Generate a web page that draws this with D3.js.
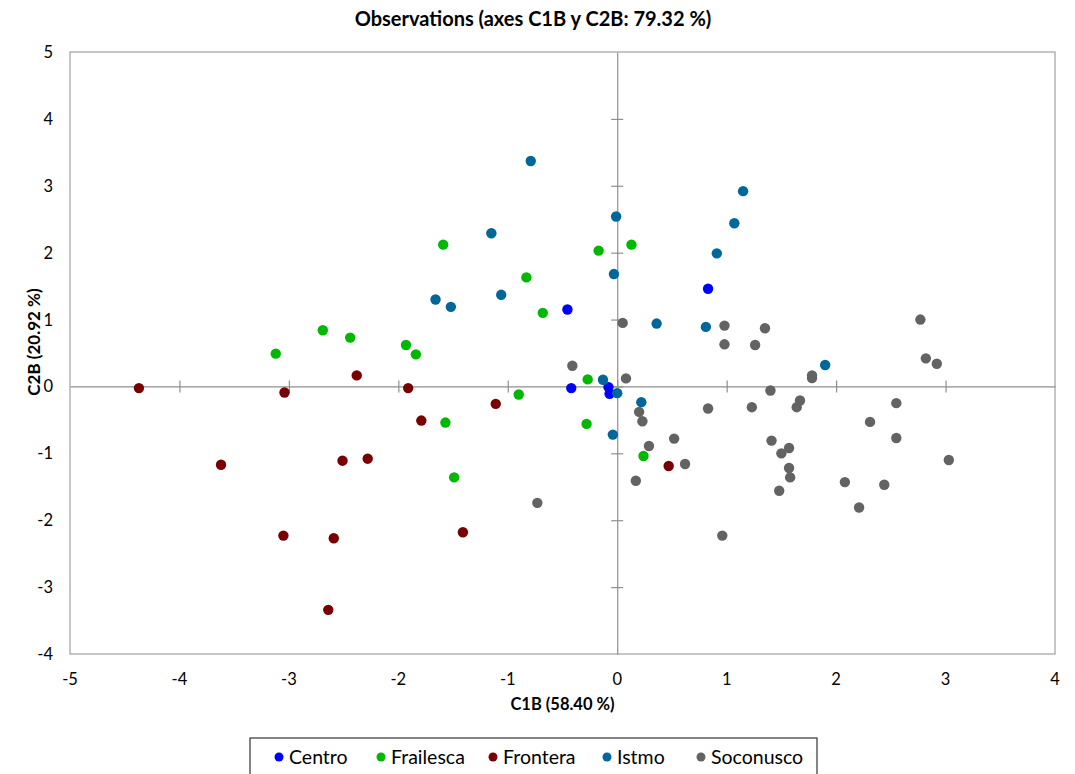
<!DOCTYPE html>
<html>
<head>
<meta charset="utf-8">
<script src="https://cdn.jsdelivr.net/npm/d3@7"></script>
<style>
  body { margin: 0; background: #fff; }
  text { font-family: Lato, "Open Sans", sans-serif; fill: #000; }
</style>
</head>
<body>
<svg id="chart" width="1075" height="774"></svg>
<script>
// series (C1B, C2B)
const groups = ['Centro', 'Frailesca', 'Frontera', 'Istmo', 'Soconusco'];
const colors = ['#0000ff', '#00b800', '#780000', '#00679b', '#636363'];

const centroX = [-0.455, 0.83, -0.42, -0.08, -0.07];
const centroY = [1.15, 1.46, -0.025, -0.01, -0.11];

const frailescaX = [-1.59, -0.83, -0.68, -2.69, -2.44, -3.12, -1.93, -1.84, -0.90, -1.57, -1.49, -0.17, 0.13, -0.27, -0.28, 0.24];
const frailescaY = [2.12, 1.63, 1.10, 0.84, 0.73, 0.49, 0.62, 0.48, -0.12, -0.54, -1.36, 2.03, 2.12, 0.105, -0.56, -1.04];

const fronteraX = [-2.38, -4.37, -3.04, -1.91, -1.11, -1.79, -3.62, -2.51, -2.28, -3.05, -2.59, -1.41, -2.64, 0.47];
const fronteraY = [0.165, -0.025, -0.09, -0.025, -0.26, -0.51, -1.17, -1.11, -1.08, -2.23, -2.27, -2.18, -3.34, -1.19];

const istmoX = [-0.79, -1.15, -1.66, -1.52, -1.06, 1.15, -0.01, 1.07, 0.91, -0.03, 0.36, 0.81, 1.90, -0.13, 0.00, 0.22, -0.04];
const istmoY = [3.37, 2.29, 1.30, 1.19, 1.37, 2.92, 2.54, 2.44, 1.99, 1.68, 0.94, 0.89, 0.32, 0.10, -0.10, -0.235, -0.72];

const soconuscoX = [-0.73, 0.05, 0.98, 1.35, 0.98, 1.26, 2.77, 2.82, 2.92, 1.78, 1.78, -0.41, 0.08, 1.40, 0.20, 0.23, 0.83, 1.23, 1.67, 1.64, 2.55, 2.31, 2.55, 0.52, 0.29, 1.41, 1.57, 1.50, 0.62, 3.03, 1.57, 1.58, 0.17, 2.08, 2.44, 1.48, 2.21, 0.96];
const soconuscoY = [-1.74, 0.95, 0.91, 0.87, 0.63, 0.62, 1.00, 0.42, 0.34, 0.165, 0.125, 0.31, 0.12, -0.06, -0.38, -0.52, -0.33, -0.31, -0.21, -0.31, -0.25, -0.53, -0.77, -0.78, -0.89, -0.81, -0.92, -1.00, -1.16, -1.10, -1.22, -1.36, -1.41, -1.43, -1.47, -1.56, -1.81, -2.23];

const xTicks = [-5, -4, -3, -2, -1, 0, 1, 2, 3, 4];
const yTicks = [-4, -3, -2, -1, 0, 1, 2, 3, 4, 5];

const seriesX = [centroX, frailescaX, fronteraX, istmoX, soconuscoX];
const seriesY = [centroY, frailescaY, fronteraY, istmoY, soconuscoY];

// points table built from the arrays above
const points = [];
groups.forEach(function(g, i) {
  seriesX[i].forEach(function(x, j) {
    points.push({group: g, x: x, y: seriesY[i][j], color: colors[i]});
  });
});

const svg = d3.select('#chart');
const plot = {left: 70, right: 1055, top: 52, bottom: 654};

const scaleX = d3.scaleLinear().domain([-5, 4]).range([plot.left, plot.right]);
const scaleY = d3.scaleLinear().domain([-4, 5]).range([plot.bottom, plot.top]);

// title
svg.append('text')
  .attr('x', 533)
  .attr('y', 26)
  .attr('text-anchor', 'middle')
  .style('font-size', '20px')
  .style('font-weight', 'bold')
  .text('Observations (axes C1B y C2B: 79.32 %)');

// plot frame
svg.append('rect')
  .attr('x', plot.left)
  .attr('y', plot.top)
  .attr('width', plot.right - plot.left)
  .attr('height', plot.bottom - plot.top)
  .attr('fill', 'none')
  .attr('stroke', '#a0a0a0')
  .attr('stroke-width', 1.2);

// x axis through y=0, ticks on both sides
const xAxis = svg.append('g')
  .attr('class', 'axis axis--x')
  .attr('transform', 'translate(0,' + scaleY(0) + ')')
  .call(d3.axisBottom(scaleX).tickValues(xTicks.slice(1, -1)).tickSize(6).tickSizeOuter(0).tickFormat(''));
xAxis.selectAll('.tick line').attr('y1', -6);
xAxis.selectAll('line, path').attr('stroke', '#8f8f8f').attr('stroke-width', 1.2);

// y axis through x=0
const yAxis = svg.append('g')
  .attr('class', 'axis axis--y')
  .attr('transform', 'translate(' + scaleX(0) + ',0)')
  .call(d3.axisLeft(scaleY).tickValues(yTicks.slice(1, -1)).tickSize(6).tickSizeOuter(0).tickFormat(''));
yAxis.selectAll('.tick line').attr('x1', 6);
yAxis.selectAll('line, path').attr('stroke', '#8f8f8f').attr('stroke-width', 1.2);

// tick labels at the frame edges
svg.append('g').selectAll('text')
  .data(xTicks)
  .enter()
  .append('text')
  .attr('x', d => scaleX(d))
  .attr('y', plot.bottom + 31)
  .attr('text-anchor', 'middle')
  .style('font-size', '16.5px')
  .text(d => d);

svg.append('g').selectAll('text')
  .data(yTicks)
  .enter()
  .append('text')
  .attr('x', plot.left - 17)
  .attr('y', d => scaleY(d) + 6)
  .attr('text-anchor', 'end')
  .style('font-size', '16.5px')
  .text(d => d);

// axis titles
svg.append('text')
  .attr('x', (plot.left + plot.right) / 2)
  .attr('y', 710)
  .attr('text-anchor', 'middle')
  .style('font-size', '16.5px')
  .style('font-weight', 'bold')
  .text('C1B (58.40 %)');

svg.append('text')
  .attr('transform', 'translate(40,342) rotate(-90)')
  .attr('text-anchor', 'middle')
  .style('font-size', '17px')
  .style('font-weight', 'bold')
  .text('C2B (20.92 %)');

// points
svg.append('g').selectAll('circle')
  .data(points)
  .enter()
  .append('circle')
  .attr('cx', d => scaleX(d.x))
  .attr('cy', d => scaleY(d.y))
  .attr('r', 5.2)
  .attr('fill', d => d.color);

// legend
const legend = svg.append('g');
legend.append('rect')
  .attr('x', 250)
  .attr('y', 738)
  .attr('width', 567)
  .attr('height', 50)
  .attr('fill', '#fff')
  .attr('stroke', '#333')
  .attr('stroke-width', 1.2);

const legendX = [279, 381, 493, 607, 701];
const items = legend.selectAll('.item')
  .data(groups)
  .enter()
  .append('g')
  .attr('class', 'item')
  .attr('transform', (d, i) => 'translate(' + legendX[i] + ',757)');

items.append('circle')
  .attr('r', 4.5)
  .attr('fill', (d, i) => colors[i]);

items.append('text')
  .attr('x', 10)
  .attr('y', 7)
  .style('font-size', '19.5px')
  .text(d => d);
</script>
</body>
</html>
